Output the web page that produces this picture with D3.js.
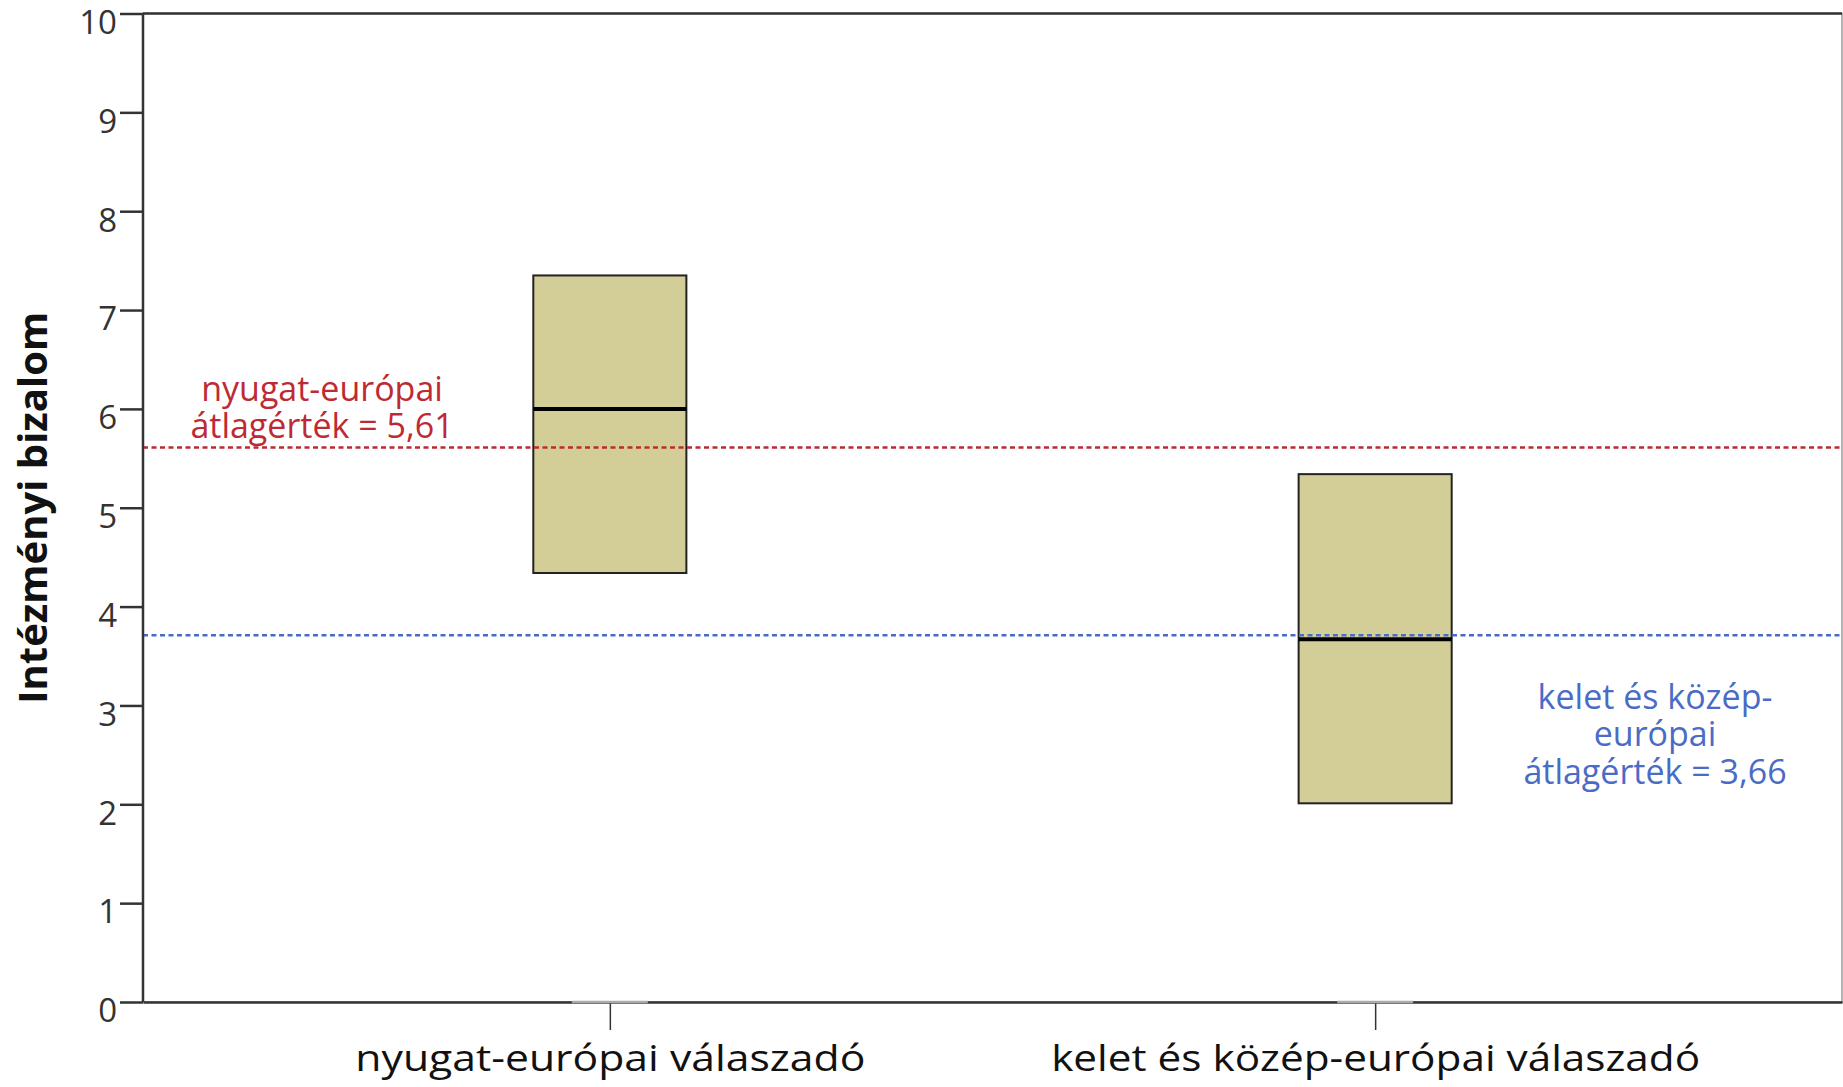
<!DOCTYPE html>
<html>
<head>
<meta charset="utf-8">
<script src="https://cdn.jsdelivr.net/npm/d3@7"></script>
<style>
  body { margin: 0; background: #fff; }
</style>
</head>
<body>
<div id="chart"></div>
<script>
let categories = ["nyugat-európai válaszadó", "kelet és közép-európai válaszadó"]
let q1 = [4.34, 2.01]
let medians = [6.00, 3.67]
let q3 = [7.35, 5.34]
let yTicks = [0, 1, 2, 3, 4, 5, 6, 7, 8, 9, 10]
let meanLines = [5.61, 3.71]
let meanLabels = [["nyugat-európai", "átlagérték = 5,61"], ["kelet és közép-", "európai", "átlagérték = 3,66"]]

let width = 1843
let height = 1087
let margin = { top: 13.5, right: 1, bottom: 85, left: 143 }
let font = "'Open Sans', sans-serif"

let svg = d3.select("#chart")
  .append("svg")
  .attr("width", width)
  .attr("height", height)
  .style("font-family", font)

let x = d3.scalePoint()
  .domain(categories)
  .range([margin.left, width - margin.right])
  .padding(0.61)

let y = d3.scaleLinear()
  .domain([0, 10])
  .range([height - margin.bottom, margin.top])

let boxW = x.step() * 0.2

// frame
svg.append("rect")
  .attr("x", margin.left)
  .attr("y", y(10))
  .attr("width", width - margin.right - margin.left)
  .attr("height", y(0) - y(10))
  .attr("fill", "none")
  .attr("stroke", "#999")
  .attr("stroke-width", 1.5)

svg.append("line")
  .attr("x1", margin.left).attr("x2", width - margin.right)
  .attr("y1", y(10)).attr("y2", y(10))
  .attr("stroke", "#333").attr("stroke-width", 2.5)

// boxes
let boxes = svg.append("g")
categories.forEach(function (c, i) {
  boxes.append("rect")
    .attr("x", x(c) - boxW / 2)
    .attr("y", y(q3[i]))
    .attr("width", boxW)
    .attr("height", y(q1[i]) - y(q3[i]))
    .attr("fill", "#d3ce97")
    .attr("stroke", "#222")
    .attr("stroke-width", 2)
})

// mean lines
let lineColors = ["#be2a33", "#4a6bc6"]
meanLines.forEach(function (v, i) {
  svg.append("line")
    .attr("x1", margin.left).attr("x2", width - margin.right)
    .attr("y1", y(v)).attr("y2", y(v))
    .attr("stroke", lineColors[i])
    .attr("stroke-width", 2.5)
    .attr("stroke-dasharray", "5,3.5")
})

// medians
categories.forEach(function (c, i) {
  svg.append("line")
    .attr("x1", x(c) - boxW / 2).attr("x2", x(c) + boxW / 2)
    .attr("y1", y(medians[i])).attr("y2", y(medians[i]))
    .attr("stroke", "#000")
    .attr("stroke-width", 4)
})

// labels for means
let labelPos = [[322, 389], [1655, 697]]
meanLabels.forEach(function (lines, i) {
  svg.append("text")
    .attr("x", labelPos[i][0])
    .attr("y", labelPos[i][1])
    .attr("text-anchor", "middle")
    .attr("fill", lineColors[i])
    .style("font-size", "34px")
    .selectAll("tspan")
    .data(lines)
    .enter().append("tspan")
      .attr("x", labelPos[i][0])
      .attr("dy", (d, j) => j == 0 ? "0.35em" : "1.1em")
      .attr("textLength", d => d.length > 10 ? null : null)
      .text(d => d)
})

// y axis
let yAxis = g => g
  .attr("transform", `translate(${margin.left},0)`)
  .call(d3.axisLeft(y).tickValues(yTicks).tickSize(23).tickPadding(3))
  .call(g => g.attr("font-family", font))
  .call(g => g.selectAll("line, path").attr("stroke", "#333").attr("stroke-width", 2.5))
  .call(g => g.select(".domain").attr("d", `M0,${y(0)}V${y(10)}`))
  .call(g => g.selectAll("text").attr("fill", "#333").style("font-size", "33px").attr("dy", "0.6em"))

svg.append("g").call(yAxis)

// x axis
let xLabelWidths = [510, 649]
let xAxis = g => g
  .attr("transform", `translate(0,${y(0)})`)
  .call(d3.axisBottom(x).tickSize(28).tickPadding(15).tickSizeOuter(0))
  .call(g => g.attr("font-family", font))
  .call(g => g.select(".domain").attr("stroke", "#333").attr("stroke-width", 2.5))
  .call(g => g.selectAll(".tick line").attr("stroke", "#333").attr("stroke-width", 1.5))
  .call(g => g.selectAll("text")
    .attr("fill", "#111")
    .style("font-size", "36px")
    .attr("textLength", (d, i) => xLabelWidths[i])
    .attr("lengthAdjust", "spacingAndGlyphs"))

svg.append("g").call(xAxis)

// lighter segments of the axis line near the ticks
svg.append("g")
  .selectAll("line")
  .data(categories)
  .enter().append("line")
    .attr("x1", d => x(d) - 38).attr("x2", d => x(d) + 38)
    .attr("y1", y(0)).attr("y2", y(0))
    .attr("stroke", "#aaa").attr("stroke-width", 2.5)

// y title
svg.append("text")
  .attr("transform", `translate(33,${(y(0) + y(10)) / 2}) rotate(-90)`)
  .attr("text-anchor", "middle")
  .attr("dy", "0.35em")
  .style("font-size", "40px")
  .style("font-weight", "bold")
  .attr("fill", "#111")
  .text("Intézményi bizalom")
</script>
</body>
</html>
